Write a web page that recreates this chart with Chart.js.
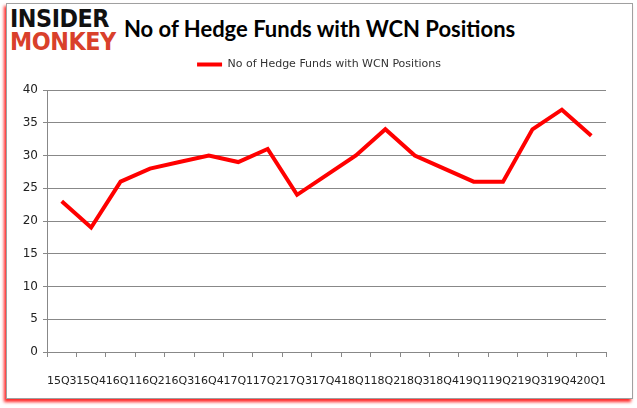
<!DOCTYPE html>
<html>
<head>
<meta charset="utf-8">
<script src="https://cdn.jsdelivr.net/npm/chart.js@4"></script>
<style>
  body { margin: 0; background: #fff; width: 637px; height: 408px; position: relative; overflow: hidden; }
  #frame {
    position: absolute; left: 6px; top: 3px; width: 625px; height: 394px;
    border: 1px solid #a0a0a0; background: #fff;
    box-shadow: -2px 3px 3px rgba(255, 0, 0, 0.85);
  }
  .logo { position: absolute; left: 10px; font-family: "DejaVu Sans", sans-serif; font-weight: bold; font-size: 24px; line-height: 24px; letter-spacing: -0.5px; transform: scaleX(0.93); transform-origin: left top; }
  #logo1 { top: 7px; color: #111; }
  #logo2 { top: 30px; color: #d9402b; }
  #title { position: absolute; left: 124px; top: 15px; font-family: Lato, sans-serif; font-weight: bold; font-size: 22px; color: #000; }
  #wrap { position: absolute; left: 8px; top: 52px; width: 622px; height: 343px; }
</style>
</head>
<body>
<div id="frame"></div>
<div class="logo" id="logo1">INSIDER</div>
<div class="logo" id="logo2">MONKEY</div>
<div id="title">No of Hedge Funds with WCN Positions</div>
<div id="wrap"><canvas id="chart"></canvas></div>
<script>
const quarters = ['15Q3', '15Q4', '16Q1', '16Q2', '16Q3', '16Q4', '17Q1', '17Q2', '17Q3', '17Q4',
                  '18Q1', '18Q2', '18Q3', '18Q4', '19Q1', '19Q2', '19Q3', '19Q4', '20Q1'];
const hedgeFunds = [23, 19, 26, 28, 29, 30, 29, 31, 24, 27, 30, 34, 30, 28, 26, 26, 34, 37, 33];
const yTicks = [0, 5, 10, 15, 20, 25, 30, 35, 40];

// push the plot down below the legend, and centre the legend on the whole frame
const legendGap = {
    id: 'legendGap',
    beforeInit(chart) {
        const fit = chart.legend.fit;
        chart.legend.fit = function() {
            fit.bind(chart.legend)();
            this.height += 10;
        };
    },
    afterLayout(chart) {
        chart.legend.left += 12;
        chart.legend.right += 12;
    }
};

const ctx = document.getElementById('chart').getContext('2d');
new Chart(ctx, {
    type: 'line',
    data: {
        labels: quarters,
        datasets: [{
            label: 'No of Hedge Funds with WCN Positions',
            data: hedgeFunds,
            borderColor: '#ff0000',
            backgroundColor: '#ff0000',
            borderWidth: 4,
            pointRadius: 0,
            tension: 0,
            fill: false
        }]
    },
    options: {
        maintainAspectRatio: false,
        responsive: true,
        animation: false,
        layout: { padding: { top: 0, right: 24, bottom: 0, left: 0 } },
        scales: {
            x: {
                offset: true,
                grid: { offset: true, drawOnChartArea: false, drawTicks: true, tickLength: 5, color: '#888' },
                border: { color: '#888' },
                ticks: {
                    color: '#222', autoSkip: false, maxRotation: 0, padding: 18,
                    font: { family: 'DejaVu Sans', size: 11 }
                },
                afterFit: scale => { scale.height = 43; }
            },
            y: {
                min: 0,
                max: 40,
                afterBuildTicks: scale => { scale.ticks = yTicks.map(v => ({ value: v })); },
                grid: { color: '#888', tickLength: 4 },
                border: { color: '#888' },
                ticks: { color: '#222', padding: 5, font: { family: 'DejaVu Sans', size: 12 } },
                afterFit: scale => { scale.width = 39; }
            }
        },
        plugins: {
            legend: {
                display: true,
                labels: {
                    color: '#333',
                    usePointStyle: true,
                    pointStyle: 'line',
                    pointStyleWidth: 25,
                    padding: 7,
                    font: { family: 'DejaVu Sans', size: 11 }
                }
            },
            tooltip: { enabled: false }
        }
    },
    plugins: [legendGap]
});
</script>
</body>
</html>
